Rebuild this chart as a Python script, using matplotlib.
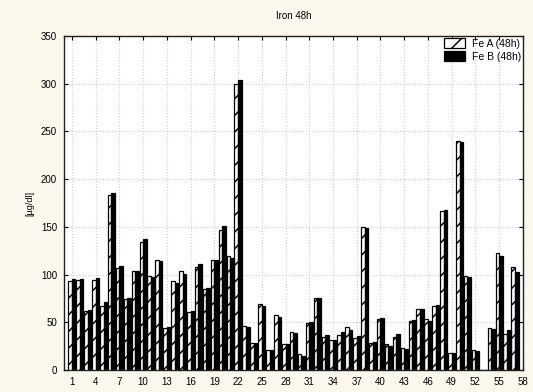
import numpy as np
import matplotlib
matplotlib.use("Agg")
import matplotlib.pyplot as plt

plt.rcParams['font.family'] = ['Liberation Sans', 'DejaVu Sans']
plt.rcParams['hatch.linewidth'] = 1.1

# subjects 1..57 (subject 53 has no value)
subjects = np.arange(1, 58)
fe_a = [93, 94, 62, 94, 67, 183, 107, 74, 104, 134,
        99, 115, 44, 93, 104, 61, 108, 85, 115, 147,
        119, 300, 46, 28, 69, 21, 58, 27, 40, 17,
        49, 76, 35, 31, 37, 45, 34, 150, 28, 54,
        27, 35, 23, 51, 64, 54, 67, 167, 18, 240,
        99, 21, 0, 44, 123, 38, 108]
fe_b = [95, 95, 63, 96, 71, 186, 109, 76, 104, 137,
        98, 114, 45, 91, 101, 62, 111, 86, 115, 151,
        117, 304, 45, 28, 67, 21, 56, 27, 39, 15,
        50, 76, 37, 32, 40, 42, 36, 149, 29, 55,
        25, 38, 22, 52, 64, 51, 68, 168, 18, 239,
        97, 20, 0, 43, 120, 42, 103]
xticks = np.arange(1, 59, 3)
yticks = np.arange(0, 351, 50)

fig = plt.figure(figsize=(5.33, 3.92), dpi=100, facecolor='#fdf8ed')
ax = fig.add_axes([0.120, 0.056, 0.861, 0.852])
ax.set_facecolor('white')

w = 0.45
ax.bar(subjects - w / 2, fe_a, width=w, color='white', edgecolor='black',
       hatch='//', linewidth=0.9, label='Fe A (48h)', zorder=3)
ax.bar(subjects + w / 2, fe_b, width=w, color='black', edgecolor='black',
       linewidth=0.9, label='Fe B (48h)', zorder=3)

ax.set_xlim(0, 58)
ax.set_ylim(0, 350)
ax.set_xticks(xticks)
ax.set_yticks(yticks)
ax.tick_params(direction='in', top=True, right=True, labelsize=7, length=3, pad=5)
ax.grid(True, color='#cfcfcf', linestyle=':', linewidth=0.8, zorder=0)
for s in ax.spines.values():
    s.set_linewidth(1.0)
    s.set_color('#202020')

ax.set_title('Iron 48h', fontsize=7, pad=12)
ax.set_ylabel('[µg/dl]', fontsize=6.5, labelpad=5)

ax.legend(loc='upper right', bbox_to_anchor=(1.0, 1.0), frameon=False,
          fontsize=7.5, handlelength=2.0, handleheight=1.1, labelspacing=0.25,
          handletextpad=0.6, borderaxespad=0.1, borderpad=0.1)

fig.savefig('out.png', dpi=100, facecolor=fig.get_facecolor())
